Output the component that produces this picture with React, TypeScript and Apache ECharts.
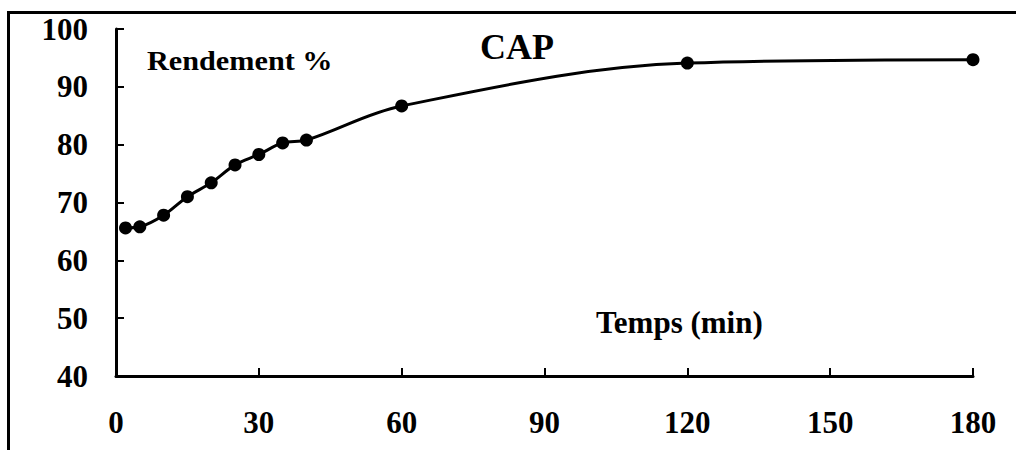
import React, { useEffect, useRef } from "react";
import * as echarts from "echarts";

const times = [2, 5, 10, 15, 20, 25, 30, 35, 40, 60, 120, 180];
const rendement = [65.6, 65.8, 67.8, 71.0, 73.4, 76.5, 78.3, 80.3, 80.8, 86.7, 94.1, 94.7];
const xTicks = { min: 0, max: 180, interval: 30 };
const yTicks = { min: 40, max: 100, interval: 10 };
const titleText = "CAP";
const yName = "Rendement %";
const xName = "Temps (min)";

const FONT = "'Liberation Serif', 'Times New Roman', serif";

export default function App() {
  const ref = useRef<HTMLDivElement>(null);
  useEffect(() => {
    if (!ref.current) return;
    const chart = echarts.init(ref.current, null, { renderer: "svg" });
    chart.setOption({
      animation: false,
      backgroundColor: "#ffffff",
      grid: { left: 116, right: 43, top: 29, bottom: 74, containLabel: false },
      xAxis: {
        type: "value",
        min: xTicks.min,
        max: xTicks.max,
        interval: xTicks.interval,
        axisLine: { show: true, onZero: false, lineStyle: { color: "#000", width: 3 } },
        axisTick: { show: true, inside: true, length: 8, lineStyle: { color: "#000", width: 2 } },
        axisLabel: { color: "#000", fontFamily: FONT, fontWeight: "bold", fontSize: 31, margin: 31 },
        splitLine: { show: false },
      },
      yAxis: {
        type: "value",
        min: yTicks.min,
        max: yTicks.max,
        interval: yTicks.interval,
        axisLine: { show: true, onZero: false, lineStyle: { color: "#000", width: 3 } },
        axisTick: { show: true, inside: true, length: 8, lineStyle: { color: "#000", width: 2 } },
        axisLabel: { color: "#000", fontFamily: FONT, fontWeight: "bold", fontSize: 31, margin: 28 },
        splitLine: { show: false },
      },
      graphic: [
        { type: "line", shape: { x1: 8.5, y1: 11, x2: 8.5, y2: 450 }, style: { stroke: "#000", lineWidth: 3 } },
        { type: "line", shape: { x1: 7, y1: 12.5, x2: 1016, y2: 12.5 }, style: { stroke: "#000", lineWidth: 3 } },
        {
          type: "text", x: 147, y: 61, scaleX: 1.12,
          style: { text: yName, fill: "#000", font: `bold 27px ${FONT}`, align: "left", verticalAlign: "middle" },
        },
        {
          type: "text", x: 480, y: 47,
          style: { text: titleText, fill: "#000", font: `bold 36px ${FONT}`, align: "left", verticalAlign: "middle" },
        },
        {
          type: "text", x: 596, y: 322,
          style: { text: xName, fill: "#000", font: `bold 31px ${FONT}`, align: "left", verticalAlign: "middle" },
        },
      ],
      series: [
        {
          type: "line",
          data: times.map((t, i) => [t, rendement[i]]),
          smooth: 0.35,
          symbol: "circle",
          symbolSize: 13,
          lineStyle: { color: "#000", width: 3 },
          itemStyle: { color: "#000" },
        },
      ],
    });
    return () => chart.dispose();
  }, []);
  return (
    <div
      ref={ref}
      style={{ position: "fixed", left: 0, top: 0, width: 1016, height: 450 }}
    />
  );
}
